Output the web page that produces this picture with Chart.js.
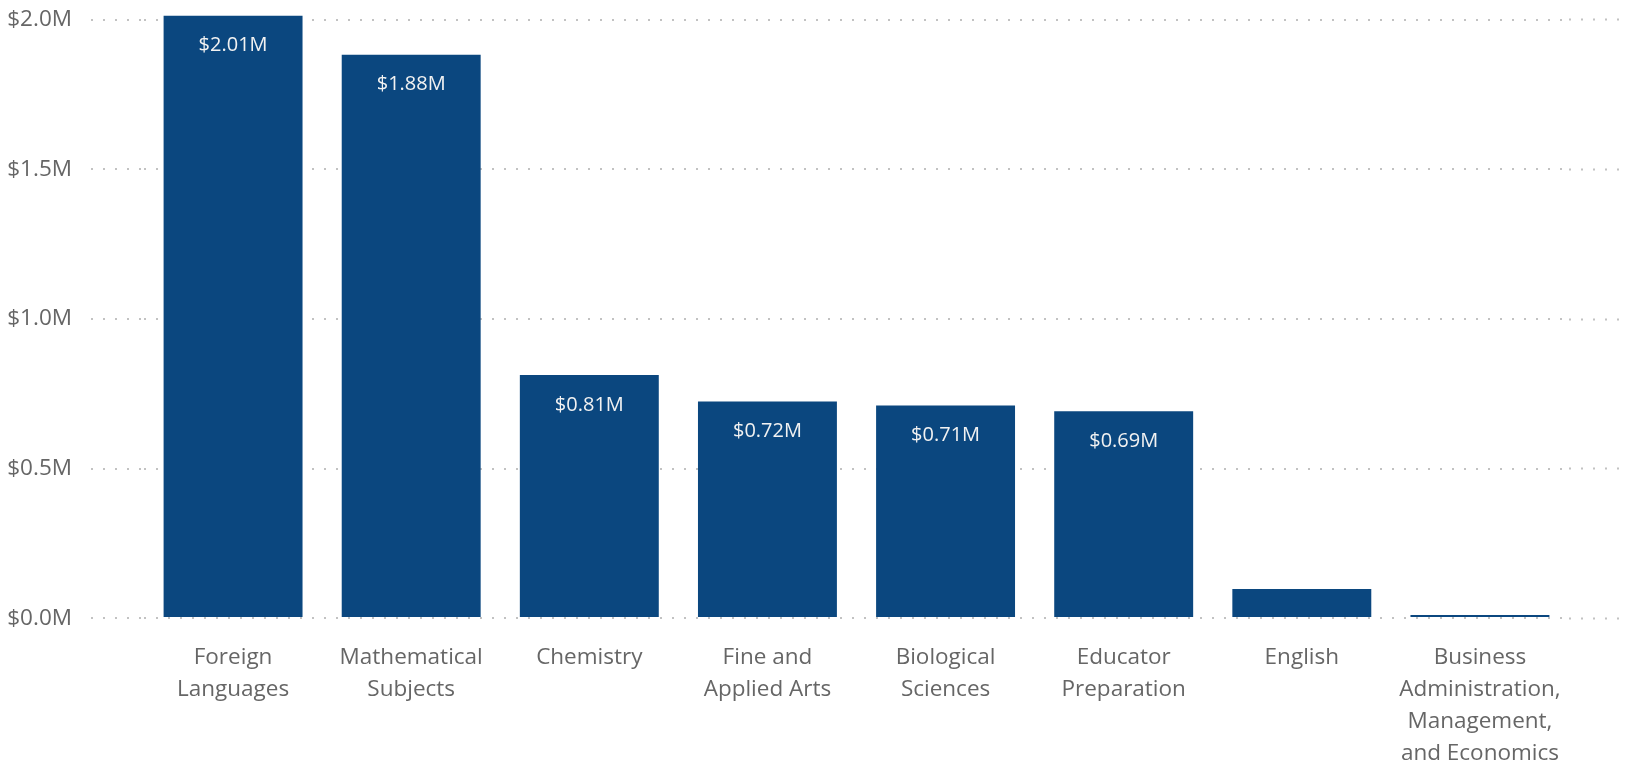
<!DOCTYPE html>
<html>
<head>
<meta charset="utf-8">
<script src="https://cdn.jsdelivr.net/npm/chart.js@4.4.1/dist/chart.umd.min.js"></script>
<style>
    html, body { margin: 0; padding: 0; background: #fff; overflow: hidden; }
    #wrap { width: 1629px; height: 793px; position: relative; }
</style>
</head>
<body>
<div id="wrap"><canvas id="spendChart"></canvas></div>
<script>
const categories = [
    ["Foreign", "Languages"],
    ["Mathematical", "Subjects"],
    "Chemistry",
    ["Fine and", "Applied Arts"],
    ["Biological", "Sciences"],
    ["Educator", "Preparation"],
    "English",
    ["Business", "Administration,", "Management,", "and Economics"]
];
const amounts = [2.014, 1.884, 0.813, 0.724, 0.711, 0.692, 0.097, 0.01];
const yTicks = [0, 0.5, 1.0, 1.5, 2.0];

const FONT = '"Segoe UI", "Open Sans", sans-serif';
const BAR = "#0b477f";
const GRID = "#c2c2c2";
const DOTS = [2, 10];

// white value labels inside the top of each bar
const barLabels = {
    id: "barLabels",
    afterDatasetsDraw(chart) {
        const ctx = chart.ctx;
        const meta = chart.getDatasetMeta(0);
        ctx.save();
        ctx.font = "20px " + FONT;
        ctx.fillStyle = "#f2f2f2";
        ctx.textAlign = "center";
        ctx.textBaseline = "middle";
        meta.data.forEach((bar, i) => {
            if (bar.base - bar.y < 60) return;
            ctx.fillText("$" + amounts[i].toFixed(2) + "M", bar.x, bar.y + 30);
        });
        ctx.restore();
    }
};

const setTicks = (axis) => { axis.ticks = yTicks.map(v => ({ value: v })); };
const fitWidth = (w) => (axis) => {
    axis.width = w;
    axis.paddingTop = 0;
    axis.paddingBottom = 0;
};

new Chart(document.getElementById("spendChart"), {
    type: "bar",
    data: {
        labels: categories,
        datasets: [{
            data: amounts,
            backgroundColor: BAR,
            categoryPercentage: 1,
            barPercentage: 0.78
        }]
    },
    options: {
        responsive: true,
        maintainAspectRatio: false,
        animation: false,
        layout: { padding: { top: 5, left: 0, right: 0, bottom: 0 } },
        plugins: {
            legend: { display: false },
            tooltip: { enabled: false }
        },
        scales: {
            x: {
                grid: { display: false, drawTicks: false },
                border: { display: false },
                ticks: {
                    color: "#666",
                    padding: 24,
                    maxRotation: 0,
                    autoSkip: false,
                    font: { family: FONT, size: 22.5, lineHeight: 1.41 }
                }
            },
            y: {
                min: 0,
                max: 2.05,
                afterBuildTicks: setTicks,
                afterFit: fitWidth(144),
                border: { display: false, dash: DOTS },
                grid: {
                    color: GRID,
                    lineWidth: 2,
                    tickLength: 53,
                    tickColor: GRID,
                    tickWidth: 2,
                    tickBorderDash: DOTS
                },
                ticks: {
                    color: "#666",
                    padding: 19,
                    font: { family: FONT, size: 22.5 },
                    callback: (v) => "$" + Number(v).toFixed(1) + "M"
                }
            },
            yRight: {
                position: "right",
                min: 0,
                max: 2.05,
                afterBuildTicks: setTicks,
                afterFit: fitWidth(60),
                border: { display: false },
                grid: {
                    drawOnChartArea: false,
                    tickLength: 52,
                    tickColor: GRID,
                    tickWidth: 2,
                    tickBorderDash: DOTS
                },
                ticks: { display: false }
            }
        }
    },
    plugins: [barLabels]
});
</script>
</body>
</html>
